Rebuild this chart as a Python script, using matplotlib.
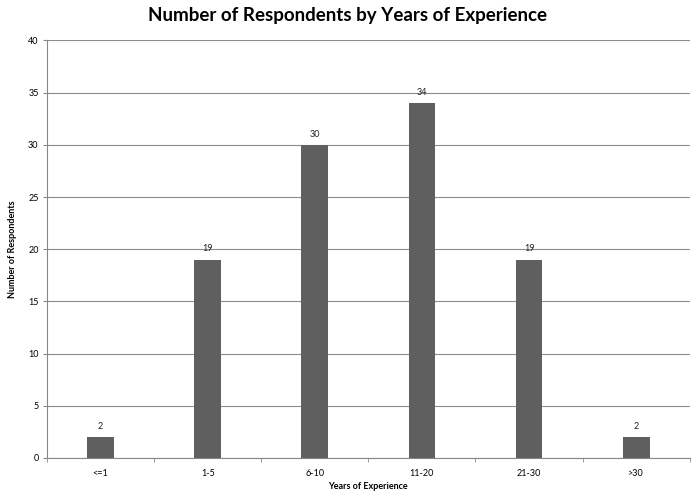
import matplotlib
matplotlib.use("Agg")
import matplotlib.pyplot as plt
import numpy as np

categories = ["<=1", "1-5", "6-10", "11-20", "21-30", ">30"]
respondents = [2, 19, 30, 34, 19, 2]

plt.rcParams['font.family'] = ['Lato', 'DejaVu Sans']

fig = plt.figure(figsize=(6.96, 4.93), dpi=100)
ax = fig.add_axes([0.0675, 0.071, 0.9235, 0.847])

x = np.arange(len(categories))
bars = ax.bar(x, respondents, width=0.25, color="#5f5f5f", zorder=3)
for b, v in zip(bars, respondents):
    ax.text(b.get_x() + b.get_width() / 2, v + 0.6, str(v),
            ha="center", va="bottom", fontsize=6.5, color="#222222")

ax.set_xlim(-0.5, len(categories) - 0.5)
ax.set_ylim(0, 40)
ax.set_yticks(range(0, 41, 5))
ax.set_xticks(x)
ax.set_xticklabels(categories)
ax.set_xticks(np.arange(-0.5, len(categories), 1), minor=True)
ax.tick_params(axis="x", which="major", length=0, labelsize=6.5, pad=8)
ax.tick_params(axis="x", which="minor", length=3, color="#888888")
ax.tick_params(axis="y", length=3, color="#888888", labelsize=6.5, pad=3)

ax.grid(axis="y", color="#8c8c8c", linewidth=0.8, zorder=0)
for s in ["top", "right"]:
    ax.spines[s].set_visible(False)
for s in ["left", "bottom"]:
    ax.spines[s].set_color("#888888")
    ax.spines[s].set_linewidth(0.8)

ax.set_xlabel("Years of Experience", fontsize=6.5, fontweight="bold", labelpad=3)
ax.set_ylabel("Number of Respondents", fontsize=6.5, fontweight="bold", labelpad=8)
fig.suptitle("Number of Respondents by Years of Experience",
             fontsize=13.5, fontweight="bold", y=0.985)

fig.savefig("out.png", dpi=100)
